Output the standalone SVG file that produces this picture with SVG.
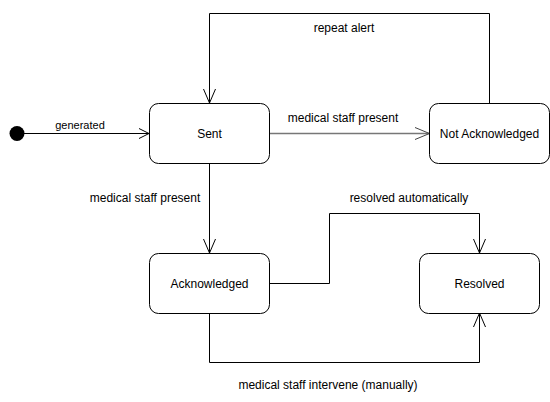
<svg xmlns="http://www.w3.org/2000/svg" width="550" height="402" viewBox="0 0 550 402">
<defs>
<style>
.node{fill:#fff;stroke:#000;stroke-width:1}
.lbl{font-family:"Liberation Sans",Arial,sans-serif;font-size:12px;fill:#000;text-anchor:middle}
.elbl{font-family:"Liberation Sans",Arial,sans-serif;font-size:12px;fill:#000;text-anchor:middle}
.edge{fill:none;stroke:#000;stroke-width:1}
.arr{fill:none;stroke:#000;stroke-width:1}
</style>
</defs>
<rect width="550" height="402" fill="#fff"/>
<g id="connectors">
<g id="e-generated">
<line class="edge" x1="24" y1="133.5" x2="149" y2="133.5"/>
<polyline class="arr" points="139,128.5 149,133.5 139,138.5"/>
<text class="elbl" x="80" y="129" style="font-size:11px">generated</text>
</g>
<g id="e-sent-notack">
<line class="edge" x1="269" y1="133.5" x2="429.5" y2="133.5" style="stroke:#777;stroke-width:1.5"/>
<polyline class="arr" points="415,127.5 429.5,133.5 415,139.5" style="stroke:#444"/>
<text class="elbl" x="343" y="122">medical staff present</text>
</g>
<g id="e-repeat">
<polyline class="edge" points="489.5,103 489.5,13.5 209.5,13.5 209.5,103"/>
<polyline class="arr" points="203.5,89 209.5,103 215.5,89"/>
<text class="elbl" x="344" y="32">repeat alert</text>
</g>
<g id="e-sent-ack">
<line class="edge" x1="209.5" y1="163" x2="209.5" y2="253"/>
<polyline class="arr" points="203.5,239 209.5,253 215.5,239"/>
<text class="elbl" x="145" y="202">medical staff present</text>
</g>
<g id="e-auto">
<polyline class="edge" points="269,283.5 329.5,283.5 329.5,213.5 479.5,213.5 479.5,253"/>
<polyline class="arr" points="473.5,239 479.5,253 485.5,239"/>
<text class="elbl" x="409" y="202">resolved automatically</text>
</g>
<g id="e-manual">
<polyline class="edge" points="209.5,313 209.5,362.5 479.5,362.5 479.5,313"/>
<polyline class="arr" points="473.5,327 479.5,313 485.5,327"/>
<text class="elbl" x="328" y="389">medical staff intervene (manually)</text>
</g>
</g>
<g id="initial">
<circle cx="17" cy="133.5" r="7.5" fill="#000"/>
</g>
<g id="sent">
<rect class="node" x="149.5" y="103.5" width="120" height="60" rx="9" ry="9"/>
<text class="lbl" x="209.5" y="138">Sent</text>
</g>
<g id="notack">
<rect class="node" x="429.5" y="103.5" width="120" height="60" rx="9" ry="9"/>
<text class="lbl" x="489.5" y="138">Not Acknowledged</text>
</g>
<g id="ack">
<rect class="node" x="149.5" y="253.5" width="120" height="60" rx="9" ry="9"/>
<text class="lbl" x="209.5" y="288">Acknowledged</text>
</g>
<g id="resolved">
<rect class="node" x="419.5" y="253.5" width="120" height="60" rx="9" ry="9"/>
<text class="lbl" x="479.5" y="288">Resolved</text>
</g>
</svg>
